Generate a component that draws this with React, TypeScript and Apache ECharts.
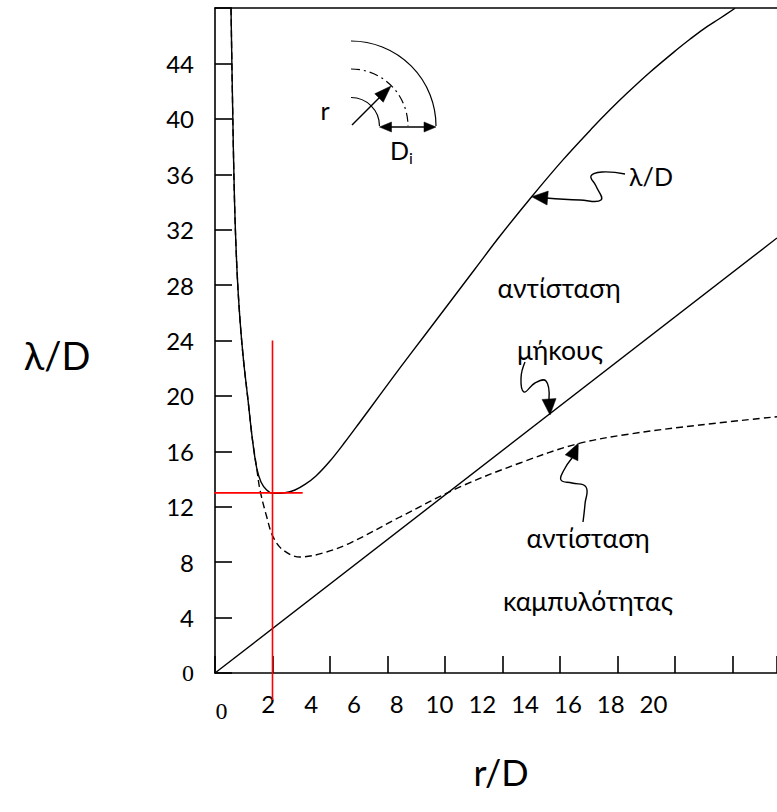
import { useEffect, useRef } from "react";
import * as echarts from "echarts";

// Axis set-up: the tick axis runs in steps of 2, the printed r/D labels sit on their own scale.
const X_MAX = 19.55;
const X_INTERVAL = 2;
const Y_MAX = 48;
const Y_INTERVAL = 4;
const X_LABELS = [0, 2, 4, 6, 8, 10, 12, 14, 16, 18, 20];
const LABEL_AXIS_MIN = -0.491;
const LABEL_AXIS_MAX = 25.771;

// Total resistance λ/D (solid curve)
const totalX = [0.557, 0.609, 0.678, 0.765, 0.87, 0.991, 1.148, 1.304, 1.45, 1.6, 1.798, 2.017, 2.435, 2.783, 3.13, 3.513, 4.0, 4.522, 5.043, 5.739, 6.435, 7.304, 8.174, 9.043, 9.913, 11.016, 12.104, 13.148, 13.739, 14.33, 15.13, 16.07, 16.52, 16.97, 17.57, 18.09];
const totalY = [47.98, 41.36, 34.14, 29.09, 25.48, 22.59, 19.71, 16.82, 14.8, 13.79, 13.21, 12.97, 13.01, 13.21, 13.61, 14.22, 15.3, 16.67, 18.12, 20.07, 22.02, 24.4, 26.78, 29.16, 31.54, 34.38, 37.04, 39.39, 40.65, 41.84, 43.36, 45.0, 45.74, 46.44, 47.26, 47.98];

// Curvature resistance (dashed curve)
const bendX = [0.557, 0.609, 0.678, 0.765, 0.87, 0.991, 1.148, 1.304, 1.45, 1.565, 1.798, 2.017, 2.365, 2.957, 3.757, 4.696, 6.435, 8.522, 10.61, 12.59, 14.43, 16.87, 19.55];
const bendY = [47.98, 41.36, 34.14, 29.09, 25.48, 22.59, 19.71, 16.82, 14.8, 13.21, 11.28, 9.84, 8.88, 8.37, 8.66, 9.38, 11.26, 13.43, 15.16, 16.53, 17.25, 17.9, 18.5];

// Length resistance (straight line)
const lengthX = [0, 19.55];
const lengthY = [0, 31.4];

// Optimum marker (red cross-hair)
const optimumX = [-6.92, 3.05];
const optimumLevel = 13;
const optimumRatio = 2;
const optimumSpan = [24, -1.95];

const SANS = "Lato, 'Noto Sans', sans-serif";
const SERIF = "'Liberation Serif', 'DejaVu Serif', serif";
const GREEK = 26.5;
const TICK_FONT = 24;

const zip = (xs: number[], ys: number[]) => xs.map((x, i) => [x, ys[i]]);

const black = "#000";
const lw = 1.4;

function arrowHead(tip: [number, number], from: [number, number], len: number, half: number) {
  const dx = tip[0] - from[0];
  const dy = tip[1] - from[1];
  const d = Math.hypot(dx, dy);
  const ux = dx / d;
  const uy = dy / d;
  const bx = tip[0] - ux * len;
  const by = tip[1] - uy * len;
  return {
    type: "polygon",
    shape: {
      points: [
        tip,
        [bx - uy * half, by + ux * half],
        [bx + uy * half, by - ux * half],
      ],
    },
    style: { fill: black, stroke: black, lineWidth: 0.5 },
  };
}

function squiggle(points: number[][]) {
  return {
    type: "polyline",
    shape: { points, smooth: 0.45 },
    style: { stroke: black, lineWidth: 1.4, fill: "none" },
  };
}

function label(text: string, x: number, y: number, size: number, family = SANS) {
  return {
    type: "text",
    x,
    y,
    style: {
      text,
      fontSize: size,
      fontFamily: family,
      fill: black,
      align: "center",
      verticalAlign: "middle",
    },
  };
}

export default function App() {
  const ref = useRef<HTMLDivElement>(null);

  useEffect(() => {
    if (!ref.current) return;
    const chart = echarts.init(ref.current, undefined, { renderer: "svg" });

    const graphic: any[] = [
      // bend sketch
      {
        type: "arc",
        shape: { cx: 351, cy: 126, r: 85, startAngle: -Math.PI / 2, endAngle: 0, clockwise: true },
        style: { stroke: black, lineWidth: 1.2, fill: "none" },
      },
      {
        type: "arc",
        shape: { cx: 351, cy: 126, r: 57, startAngle: -Math.PI / 2, endAngle: 0, clockwise: true },
        style: { stroke: black, lineWidth: 1.2, fill: "none", lineDash: [9, 4, 2, 4] },
      },
      {
        type: "arc",
        shape: { cx: 351, cy: 126, r: 28.5, startAngle: -Math.PI / 2, endAngle: 0, clockwise: true },
        style: { stroke: black, lineWidth: 1.2, fill: "none" },
      },
      {
        type: "line",
        shape: { x1: 352, y1: 125, x2: 380, y2: 97 },
        style: { stroke: black, lineWidth: 1.4 },
      },
      arrowHead([391, 86], [352, 125], 17, 6),
      {
        type: "line",
        shape: { x1: 390, y1: 127, x2: 425, y2: 127 },
        style: { stroke: black, lineWidth: 1.4 },
      },
      arrowHead([379.5, 127], [436, 127], 12, 5),
      arrowHead([436, 127], [379.5, 127], 12, 5),
      label("r", 325, 110, 25),
      {
        type: "text",
        x: 390,
        y: 150,
        style: {
          text: "D{sub|i}",
          fontSize: 25,
          fontFamily: SANS,
          fill: black,
          align: "left",
          verticalAlign: "middle",
          rich: { sub: { fontSize: 16, fontFamily: SANS, fill: black, padding: [15, 0, 0, 0] } },
        },
      },

      // λ/D pointer
      squiggle([[546, 198], [580, 200], [601, 200], [596, 186], [591, 176], [602, 172], [625, 174]]),
      arrowHead([531.7, 196.7], [547, 198], 16, 7),
      label("λ/D", 651, 176, 25),

      // length resistance
      label("αντίσταση", 559, 288, GREEK),
      label("μήκους", 560, 350, GREEK),
      squiggle([[525, 362], [521, 378], [524, 392], [535, 383], [546, 381], [549, 399]]),
      arrowHead([550, 415], [549, 398], 16, 7),

      // curvature resistance
      label("αντίσταση", 588, 538, GREEK),
      label("καμπυλότητας", 588, 601, GREEK),
      squiggle([[583, 522], [585, 504], [586, 487], [572, 483], [561, 480], [564, 470], [572, 458]]),
      arrowHead([578.3, 443.3], [571, 459], 16, 7),

      // axis titles
      label("λ/D", 57, 355, 38),
      label("r/D", 501, 772, 36),
    ];

    const tickRich = {
      n: { fontFamily: SANS, fontSize: TICK_FONT, color: black },
      z: { fontFamily: SERIF, fontSize: TICK_FONT, color: black },
    };

    chart.setOption({
      animation: false,
      backgroundColor: "#fff",
      grid: { left: 215, right: 0, top: 8, bottom: 139, containLabel: false },
      xAxis: [
        {
          type: "value",
          min: 0,
          max: X_MAX,
          interval: X_INTERVAL,
          position: "bottom",
          axisLine: { show: true, onZero: false, lineStyle: { color: black, width: 1.6 } },
          axisTick: { show: true, inside: true, length: 17, lineStyle: { color: black, width: 1.6 } },
          axisLabel: { show: false },
          splitLine: { show: false },
        },
        {
          type: "value",
          min: LABEL_AXIS_MIN,
          max: LABEL_AXIS_MAX,
          position: "bottom",
          axisLine: { show: false, onZero: false },
          axisTick: { show: false },
          splitLine: { show: false },
          axisLabel: {
            show: true,
            customValues: X_LABELS,
            margin: 18,
            fontSize: TICK_FONT,
            fontFamily: SANS,
            color: black,
            formatter: (v: number) => (v === 0 ? "{z|0}" : `{n|${v}}`),
            rich: {
              n: tickRich.n,
              z: { ...tickRich.z, padding: [8, 8, 0, 0] },
            },
          },
        },
        {
          type: "value",
          min: 0,
          max: X_MAX,
          position: "top",
          axisLine: { show: true, onZero: false, lineStyle: { color: black, width: 1.6 } },
          axisTick: { show: false },
          axisLabel: { show: false },
          splitLine: { show: false },
        },
      ],
      yAxis: {
        type: "value",
        min: 0,
        max: Y_MAX,
        interval: Y_INTERVAL,
        axisLine: { show: true, onZero: false, lineStyle: { color: black, width: 1.6 } },
        axisTick: { show: true, inside: true, length: 17, lineStyle: { color: black, width: 1.6 } },
        splitLine: { show: false },
        axisLabel: {
          margin: 21,
          fontSize: TICK_FONT,
          fontFamily: SANS,
          color: black,
          formatter: (v: number) => (v === Y_MAX ? "" : v === 0 ? "{z|0}" : `{n|${v}}`),
          rich: tickRich,
        },
      },
      series: [
        {
          type: "line",
          data: zip(bendX, bendY),
          smooth: 0.35,
          symbol: "none",
          lineStyle: { color: black, width: lw, type: [7, 4] },
          z: 2,
        },
        {
          type: "line",
          data: zip(totalX, totalY),
          smooth: 0.35,
          symbol: "none",
          lineStyle: { color: black, width: lw },
          z: 3,
        },
        {
          type: "line",
          data: zip(lengthX, lengthY),
          symbol: "none",
          lineStyle: { color: black, width: lw },
          z: 3,
        },
        {
          type: "line",
          data: optimumX.map((x) => [x, optimumLevel]),
          symbol: "none",
          clip: false,
          lineStyle: { color: "#ff0000", width: 1.6 },
          z: 5,
        },
        {
          type: "line",
          data: optimumSpan.map((y) => [optimumRatio, y]),
          symbol: "none",
          clip: false,
          lineStyle: { color: "#ff0000", width: 1.6 },
          z: 5,
        },
      ],
      graphic,
    });

    return () => chart.dispose();
  }, []);

  return (
    <div
      ref={ref}
      style={{ position: "fixed", left: 0, top: 0, width: 777, height: 812, background: "#fff" }}
    />
  );
}
